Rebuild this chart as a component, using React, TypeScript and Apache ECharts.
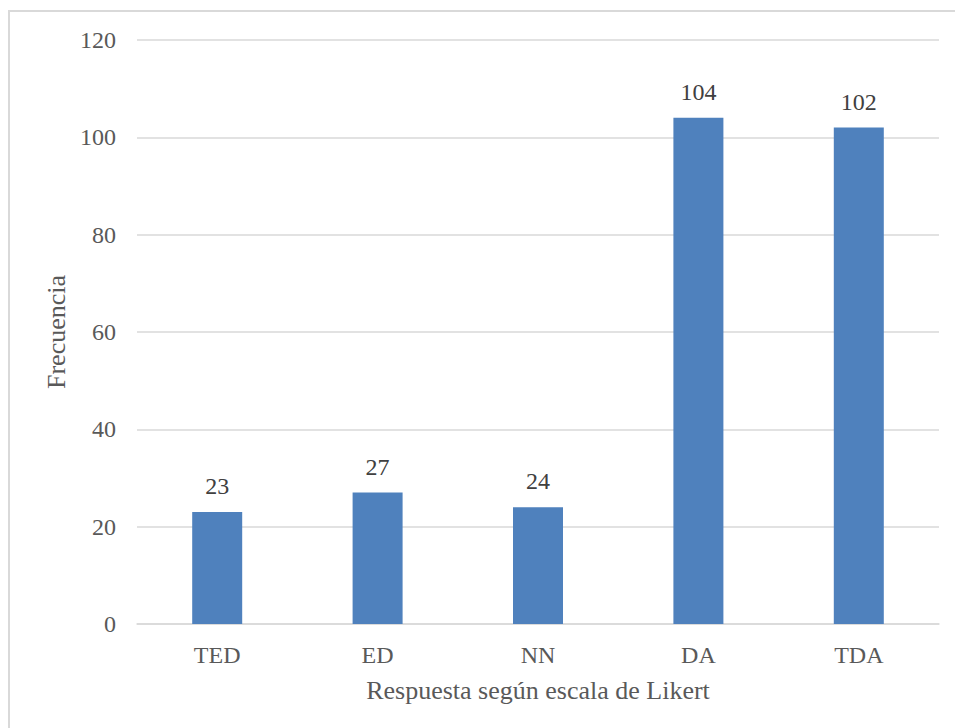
import React, { useEffect, useRef } from "react";
import * as echarts from "echarts";

const categories = ["TED", "ED", "NN", "DA", "TDA"];
const values = [23, 27, 24, 104, 102];
const yTicks = { min: 0, max: 120, interval: 20 };

export default function App() {
  const ref = useRef<HTMLDivElement>(null);
  useEffect(() => {
    const chart = echarts.init(ref.current!, undefined, { renderer: "svg" });
    const font = "'Times New Roman', 'Liberation Serif', serif";
    chart.setOption({
      animation: false,
      backgroundColor: "#ffffff",
      textStyle: { fontFamily: font },
      graphic: [
        {
          type: "rect",
          shape: { x: 9, y: 11, width: 1000, height: 1000 },
          style: { fill: "none", stroke: "#d9d9d9", lineWidth: 2 },
          silent: true,
        },
      ],
      grid: { left: 137, right: 16, top: 40, bottom: 104 },
      xAxis: {
        type: "category",
        data: categories,
        name: "Respuesta según escala de Likert",
        nameLocation: "middle",
        nameGap: 53,
        nameTextStyle: { fontFamily: font, fontSize: 26, color: "#595959" },
        axisLine: { lineStyle: { color: "#d9d9d9", width: 1.5 } },
        axisTick: { show: false },
        axisLabel: { fontFamily: font, fontSize: 24, color: "#595959", margin: 19 },
      },
      yAxis: {
        type: "value",
        min: yTicks.min,
        max: yTicks.max,
        interval: yTicks.interval,
        name: "Frecuencia",
        nameLocation: "middle",
        nameGap: 64,
        nameTextStyle: { fontFamily: font, fontSize: 26, color: "#595959" },
        axisLine: { show: false },
        axisTick: { show: false },
        axisLabel: { fontFamily: font, fontSize: 24, color: "#595959", margin: 21 },
        splitLine: { lineStyle: { color: "#d9d9d9", width: 1.5 } },
      },
      series: [
        {
          type: "bar",
          data: values,
          barWidth: 50,
          itemStyle: { color: "#4f81bd" },
          label: {
            show: true,
            position: "top",
            distance: 14,
            fontFamily: font,
            fontSize: 24,
            color: "#404040",
          },
        },
      ],
    });
    return () => chart.dispose();
  }, []);
  return (
    <div
      ref={ref}
      style={{ position: "absolute", left: 0, top: 0, width: 955, height: 728 }}
    />
  );
}
